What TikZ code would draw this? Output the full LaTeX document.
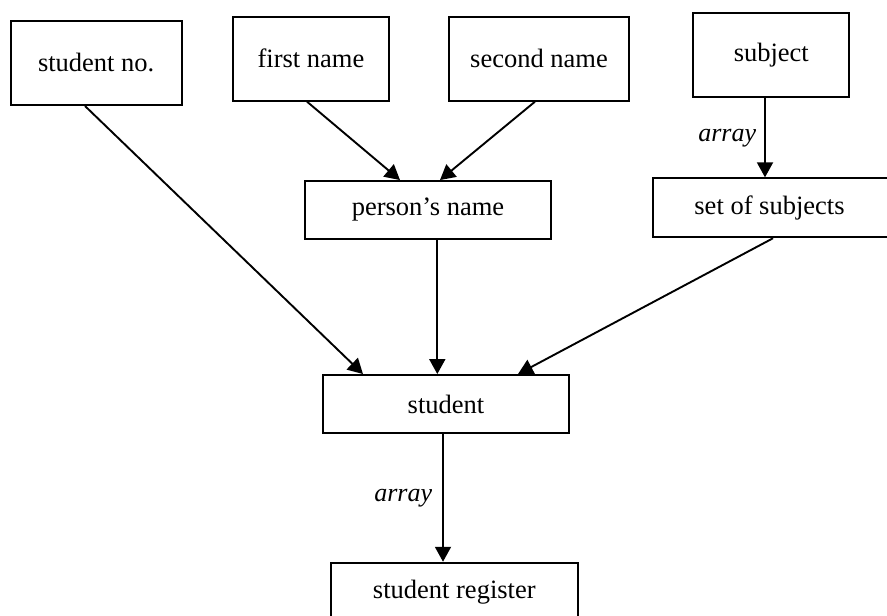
\documentclass[tikz,border=0pt]{standalone}
\usepackage{fontspec}
\setmainfont{Liberation Serif}
\usetikzlibrary{arrows.meta}
\tikzset{
  box/.style={draw, line width=1.9pt, inner sep=0pt, font=\fontsize{26.5}{30}\selectfont},
  arr/.style={line width=1.9pt, -{Triangle[width=16pt,length=15pt]}},
  lbl/.style={font=\fontsize{26}{30}\selectfont\itshape, inner sep=0pt}
}
\begin{document}
\begin{tikzpicture}[x=1pt,y=-1pt]
\useasboundingbox (0,0) rectangle (887,616);
\clip (0,0) rectangle (887,616);
\fill[white] (0,0) rectangle (887,616);
\node[box, minimum width=171pt, minimum height=84.3pt] (sno) at (96.2,62.9) {student no.};
\node[box, minimum width=156.6pt, minimum height=84pt] (fn) at (311,58.7) {first name};
\node[box, minimum width=180pt, minimum height=84pt] (sn) at (539,58.7) {second name};
\node[box, minimum width=156pt, minimum height=84.6pt] (subj) at (771.3,55) {subject};
\node[box, minimum width=246pt, minimum height=58pt] (pn) at (428,210) {person’s name};
\node[box, minimum width=237pt, minimum height=59pt] (sos) at (771.7,207.8) {};
\node[font=\fontsize{26.5}{30}\selectfont, inner sep=0pt] (sostxt) at (769.5,207.8) {set of subjects};
\node[box, minimum width=246.6pt, minimum height=58pt] (stu) at (446,404) {student};
\node[box, minimum width=246.7pt, minimum height=58pt] (reg) at (454.3,591.7) {student register};

\draw[arr] ([xshift=-4pt]fn.south) -- ([xshift=-28pt]pn.north);
\draw[arr] ([xshift=-4pt]sn.south) -- ([xshift=12pt]pn.north);
\draw[arr] ([xshift=-6.3pt]subj.south) -- ([xshift=-6.3pt]subj.south |- sos.north)
  node[lbl, midway, left=8pt] (a1) {array};
\draw[arr] ([xshift=-11.2pt]sno.south) -- ([xshift=-83pt]stu.north);
\draw[arr] ([xshift=9.3pt]pn.south) -- ([xshift=9.3pt]pn.south |- stu.north);
\draw[arr] ([xshift=1.3pt]sos.south) -- ([xshift=72pt]stu.north);
\draw[arr] ([xshift=-3pt]stu.south) -- ([xshift=-3pt]stu.south |- reg.north)
  node[lbl, midway, left=10pt] (a2) {array};
\end{tikzpicture}
\end{document}
